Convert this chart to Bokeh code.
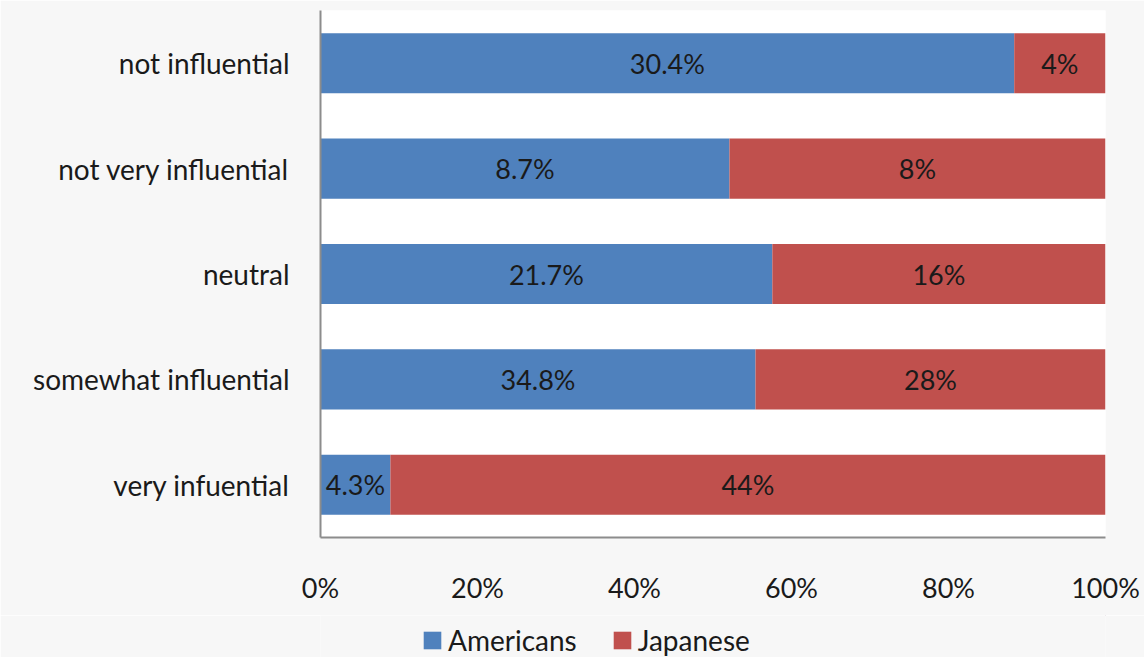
from bokeh.plotting import figure
from bokeh.layouts import column
from bokeh.models import ColumnDataSource, Range1d, FactorRange, NumeralTickFormatter, FixedTicker, Legend, LegendItem
from bokeh.core.properties import value
from bokeh.embed import file_html
from bokeh.resources import INLINE

categories = ["very infuential", "somewhat influential", "neutral", "not very influential", "not influential"]
americans = [4.3, 34.8, 21.7, 8.7, 30.4]
japanese = [44, 28, 16, 8, 4]
american_labels = ["4.3%", "34.8%", "21.7%", "8.7%", "30.4%"]
japanese_labels = ["44%", "28%", "16%", "8%", "4%"]
series_names = ["Americans", "Japanese"]
x_ticks = [0, 0.2, 0.4, 0.6, 0.8, 1.0]

FONT = "Lato"
FS = "27px"
BLUE = "#4f81bd"
RED = "#c0504d"
BG = "#f7f7f7"
TXT = "#1a1a1a"

a_share = [a / (a + j) for a, j in zip(americans, japanese)]
src = ColumnDataSource(dict(
    cat=categories,
    a_left=[0] * len(categories),
    a_right=a_share,
    j_left=a_share,
    j_right=[1] * len(categories),
    a_mid=[s / 2 for s in a_share],
    j_mid=[(s + 1) / 2 for s in a_share],
    a_lab=american_labels,
    j_lab=japanese_labels,
))

p = figure(width=1144, height=615, y_range=FactorRange(factors=categories),
           x_range=Range1d(0, 1), output_backend="svg", toolbar_location=None,
           min_border_left=320, min_border_right=39, min_border_top=10, min_border_bottom=78)
p.background_fill_color = "white"
p.border_fill_color = BG
p.outline_line_color = None
p.xgrid.visible = False
p.ygrid.visible = False

p.hbar(y="cat", left="a_left", right="a_right", height=0.57, source=src, fill_color=BLUE, line_color=None)
p.hbar(y="cat", left="j_left", right="j_right", height=0.57, source=src, fill_color=RED, line_color=None)

p.text(x="a_mid", y="cat", text="a_lab", source=src, text_align="center", text_baseline="middle",
       text_font=value(FONT), text_font_size=FS, text_color=TXT)
p.text(x="j_mid", y="cat", text="j_lab", source=src, text_align="center", text_baseline="middle",
       text_font=value(FONT), text_font_size=FS, text_color=TXT)

for ax in (p.xaxis[0], p.yaxis[0]):
    ax.axis_line_color = "#8c8c8c"
    ax.axis_line_width = 2
    ax.major_tick_line_color = None
    ax.minor_tick_line_color = None
    ax.major_label_text_font = FONT
    ax.major_label_text_font_size = FS
    ax.major_label_text_color = TXT

p.yaxis.major_label_text_font_size = "28px"
p.xaxis.ticker = FixedTicker(ticks=x_ticks)
p.xaxis.formatter = NumeralTickFormatter(format="0%")
p.xaxis.major_label_standoff = 27
p.yaxis.major_label_standoff = 25

# legend strip
lg = figure(width=1144, height=42, x_range=Range1d(0, 1), y_range=Range1d(0, 1),
            output_backend="svg", toolbar_location=None,
            min_border_left=0, min_border_right=0, min_border_top=0, min_border_bottom=0)
lg.axis.visible = False
lg.grid.visible = False
lg.outline_line_color = None
lg.background_fill_color = BG
lg.border_fill_color = BG
dsrc = ColumnDataSource(dict(y=[5], l=[5], r=[6]))
ra = lg.hbar(y="y", left="l", right="r", height=0.1, source=dsrc, fill_color=BLUE, line_color=None)
rj = lg.hbar(y="y", left="l", right="r", height=0.1, source=dsrc, fill_color=RED, line_color=None)

legend = Legend(items=[LegendItem(label=series_names[0], renderers=[ra]),
                       LegendItem(label=series_names[1], renderers=[rj])],
                orientation="horizontal", location=(101, 0),
                background_fill_alpha=0, border_line_color=None,
                padding=0, margin=0, spacing=34, label_standoff=5,
                glyph_width=22, glyph_height=22,
                label_text_font=FONT, label_text_font_size="28px", label_text_color=TXT)
lg.add_layout(legend, "center")

layout = column(p, lg, spacing=0)
open("out.html", "w").write(file_html(layout, INLINE))
